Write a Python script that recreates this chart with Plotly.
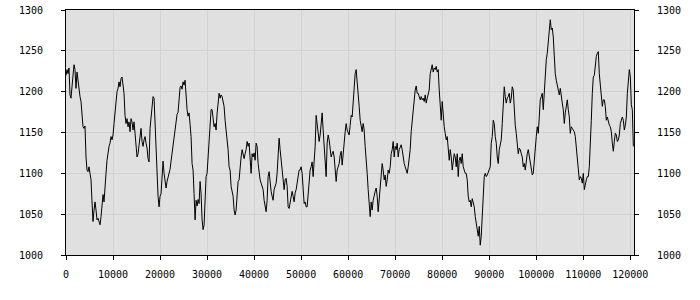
import plotly.graph_objects as go

# sample spacing along x (data units between consecutive samples)
sample_step = 212.8

values = [
    # 0 .. ~20000
    1220, 1227, 1222, 1229, 1196, 1192, 1206, 1220, 1233, 1227, 1204, 1224, 1212, 1204, 1194, 1188,
    1173, 1157, 1155, 1158, 1120, 1104, 1102, 1108, 1100, 1092, 1065, 1041, 1055, 1065, 1055, 1043,
    1045, 1039, 1037, 1047, 1067, 1074, 1065, 1092, 1100, 1116, 1127, 1133, 1137, 1145, 1141, 1147,
    1161, 1178, 1188, 1200, 1204, 1212, 1206, 1216, 1218, 1208, 1198, 1171, 1161, 1167, 1157, 1163,
    1151, 1167, 1163, 1153, 1163, 1149, 1133, 1120, 1124, 1137, 1149, 1155, 1139, 1133, 1141, 1145,
    1137, 1131, 1118, 1114, 1155, 1169, 1182, 1194, 1192, 1161, 1137, 1096, 1072, 1059,
    # ~20000 .. ~40000
    1072, 1075, 1095, 1115, 1100, 1088, 1082, 1090, 1095, 1100, 1105, 1115, 1125, 1130, 1140, 1150,
    1163, 1172, 1175, 1195, 1205, 1207, 1203, 1212, 1208, 1214, 1190, 1178, 1170, 1174, 1160, 1145,
    1112, 1104, 1075, 1043, 1067, 1060, 1068, 1063, 1090, 1075, 1043, 1031, 1037, 1063, 1096, 1100,
    1124, 1145, 1157, 1178, 1178, 1165, 1157, 1161, 1153, 1173, 1190, 1198, 1192, 1196, 1194, 1186,
    1182, 1165, 1153, 1149, 1129, 1108, 1104, 1084, 1078, 1072, 1055, 1049, 1055, 1076, 1090, 1092,
    1112, 1120, 1129, 1124, 1118, 1124, 1129, 1139, 1133, 1137, 1120, 1100, 1124, 1120,
    # ~40000 .. ~60000
    1125, 1116, 1137, 1133, 1112, 1100, 1092, 1088, 1084, 1080, 1067, 1057, 1053, 1067, 1096, 1102,
    1084, 1078, 1072, 1067, 1080, 1084, 1088, 1100, 1116, 1143, 1129, 1116, 1112, 1096, 1080, 1092,
    1094, 1084, 1059, 1057, 1065, 1067, 1078, 1072, 1065, 1076, 1080, 1088, 1100, 1104, 1104, 1108,
    1100, 1078, 1063, 1065, 1059, 1059, 1078, 1096, 1104, 1108, 1114, 1096, 1116, 1133, 1171, 1161,
    1149, 1139, 1147, 1157, 1174, 1153, 1133, 1120, 1096, 1137, 1147, 1141, 1133, 1120, 1124, 1127,
    1120, 1108, 1090, 1104, 1108, 1112, 1122, 1127, 1110, 1129, 1137, 1151, 1161, 1153,
    # ~60000 .. ~80000
    1149, 1147, 1159, 1171, 1169, 1192, 1212, 1222, 1227, 1214, 1192, 1182, 1165, 1159, 1151, 1161,
    1153, 1133, 1120, 1100, 1080, 1063, 1047, 1065, 1055, 1067, 1074, 1078, 1082, 1072, 1053, 1067,
    1080, 1096, 1112, 1104, 1092, 1098, 1084, 1092, 1104, 1100, 1108, 1124, 1129, 1139, 1120, 1133,
    1129, 1137, 1120, 1129, 1133, 1135, 1129, 1116, 1112, 1108, 1104, 1100, 1108, 1120, 1129, 1151,
    1165, 1178, 1194, 1202, 1207, 1198, 1198, 1193, 1190, 1194, 1190, 1192, 1188, 1196, 1186, 1192,
    1198, 1202, 1222, 1229, 1233, 1224, 1229, 1227, 1231, 1224, 1227, 1202, 1182, 1165,
    # ~80000 .. ~100000
    1188, 1169, 1157, 1149, 1141, 1145, 1129, 1116, 1129, 1120, 1104, 1116, 1124, 1120, 1108, 1124,
    1096, 1116, 1120, 1112, 1124, 1108, 1104, 1100, 1100, 1092, 1072, 1065, 1067, 1059, 1069, 1063,
    1059, 1047, 1039, 1031, 1023, 1035, 1012, 1023, 1045, 1076, 1096, 1100, 1096, 1098, 1102, 1104,
    1108, 1137, 1145, 1165, 1161, 1145, 1137, 1120, 1112, 1129, 1137, 1141, 1161, 1190, 1206, 1194,
    1186, 1192, 1194, 1198, 1186, 1192, 1206, 1202, 1169, 1159, 1149, 1133, 1124, 1131, 1129, 1124,
    1120, 1108, 1112, 1104, 1120, 1124, 1129, 1120, 1112, 1104, 1098, 1100, 1120, 1137,
    # ~100000 .. end
    1145, 1157, 1149, 1169, 1190, 1194, 1198, 1178, 1202, 1218, 1239, 1247, 1263, 1280, 1288, 1276,
    1278, 1267, 1243, 1222, 1214, 1206, 1202, 1196, 1204, 1192, 1186, 1178, 1161, 1174, 1182, 1190,
    1178, 1169, 1149, 1157, 1155, 1153, 1151, 1145, 1129, 1118, 1104, 1092, 1096, 1094, 1088, 1100,
    1080, 1088, 1092, 1096, 1096, 1108, 1129, 1165, 1198, 1218, 1220, 1235, 1243, 1247, 1249, 1222,
    1206, 1194, 1182, 1190, 1190, 1182, 1165, 1169, 1161, 1159, 1157, 1151, 1137, 1127, 1139, 1149,
    1147, 1139, 1141, 1147, 1161, 1165, 1169, 1165, 1153, 1159, 1169, 1198, 1214, 1227, 1218, 1184,
    1178, 1133,
]

x_vals = [i * sample_step for i in range(len(values))]

x_ticks = [0, 10000, 20000, 30000, 40000, 50000, 60000, 70000, 80000, 90000, 100000, 110000, 120000]
y_ticks = [1000, 1050, 1100, 1150, 1200, 1250, 1300]
x_range = [0, 120800]
y_range = [1000, 1300]

tick_font = dict(family="DejaVu Sans Mono", size=10, color="#000000")
grid_color = "#d2d2d2"

fig = go.Figure()
fig.add_trace(go.Scatter(x=x_vals, y=values, mode="lines",
                         line=dict(color="#000000", width=1), hoverinfo="skip",
                         showlegend=False))
fig.add_trace(go.Scatter(x=x_vals, y=values, mode="lines", yaxis="y2",
                         line=dict(color="rgba(0,0,0,0)", width=1), hoverinfo="skip",
                         showlegend=False))

fig.update_layout(
    width=700, height=300,
    margin=dict(l=66, r=66, t=10, b=45, autoexpand=False),
    paper_bgcolor="#ffffff",
    plot_bgcolor="#e0e0e0",
    xaxis=dict(range=x_range, tickvals=x_ticks, ticktext=[str(t) for t in x_ticks],
               showgrid=True, gridcolor=grid_color, gridwidth=1, zeroline=False,
               showline=True, linecolor="#000000", linewidth=1, mirror=True,
               ticks="outside", ticklen=4, tickcolor="#000000", tickfont=tick_font,
               ticklabelstandoff=6, automargin=False),
    yaxis=dict(range=y_range, tickvals=y_ticks, ticktext=[str(t) for t in y_ticks],
               showgrid=True, gridcolor=grid_color, gridwidth=1, zeroline=False,
               showline=True, linecolor="#000000", linewidth=1, mirror=True,
               ticks="outside", ticklen=4, tickcolor="#000000", tickfont=tick_font,
               ticklabelstandoff=16, automargin=False),
    yaxis2=dict(range=y_range, tickvals=y_ticks, ticktext=[str(t) for t in y_ticks],
                overlaying="y", side="right", showgrid=False, zeroline=False,
                showline=False, ticks="outside", ticklen=4, tickcolor="#000000",
                tickfont=tick_font, ticklabelstandoff=16, automargin=False),
)

fig.write_html("out.html")
